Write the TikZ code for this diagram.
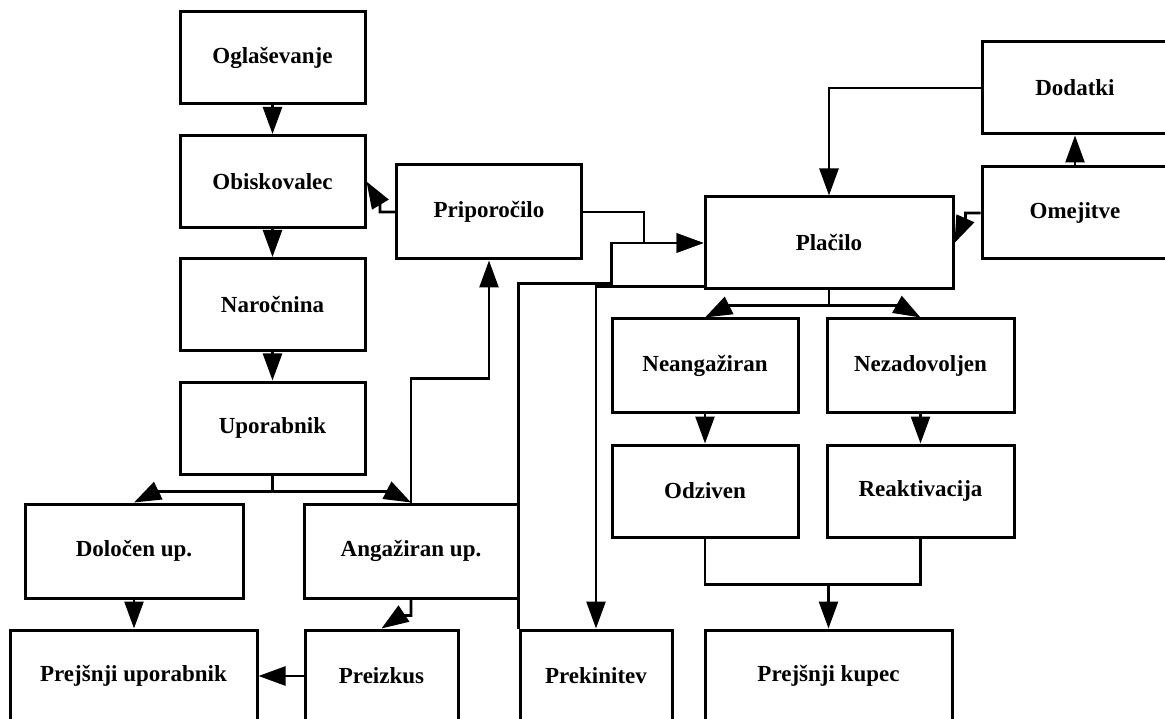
\documentclass[tikz,border=0pt]{standalone}
\usepackage{fontspec}
\setmainfont{Liberation Serif}
\usetikzlibrary{arrows.meta,positioning}
\tikzset{font=\fontsize{23}{27}\selectfont\bfseries}
\tikzset{box/.style={draw, line width=3pt, inner sep=0pt, minimum width=185pt, minimum height=92pt}}
\tikzset{conn/.style={line width=2.6pt, -{Triangle[length=27pt,width=19pt]}}}
\tikzset{link/.style={line width=2.6pt}}

\begin{document}
\begin{tikzpicture}[x=1pt, y=-1pt]
  \clip (0,0) rectangle (1165,719);
  \fill[white] (0,0) rectangle (1165,719);

  \node[box] (ogl) at (272.5,57.5) {Oglaševanje};
  \node[box] (obi) at (272.5,181.5) {Obiskovalec};
  \node[box] (nar) at (272.5,304.5) {Naročnina};
  \node[box] (upo) at (272.5,428) {Uporabnik};
  \node[box, minimum height=94pt] (pri) at (489,212) {Priporočilo};
  \node[box, minimum width=248pt] (pla) at (829,243) {Plačilo};
  \node[box, minimum width=186pt] (dod) at (1075,88) {Dodatki};
  \node[box, minimum width=186pt] (ome) at (1075,213) {Omejitve};
  \node[box, minimum width=186pt, minimum height=93pt] (neang) at (705,365.5) {Neangažiran};
  \node[box, minimum width=187pt, minimum height=93pt] (nezad) at (920.5,365.5) {Nezadovoljen};
  \node[box, minimum width=186pt] (odz) at (705,491) {Odziven};
  \node[box, minimum width=187pt] (reak) at (920.5,491) {Reaktivacija};
  \node[box, minimum width=218pt, minimum height=94pt] (dol) at (134,551) {Določen up.};
  \node[box, minimum width=214pt, minimum height=94pt] (ang) at (411,551) {Angažiran up.};
  \node[box, minimum width=247pt] (pupo) at (133.5,676) {Prejšnji uporabnik};
  \node[box, minimum width=153pt] (prei) at (381.5,676) {Preizkus};
  \node[box, minimum width=152pt] (prek) at (596,676) {Prekinitev};
  \node[box, minimum width=247pt] (pkup) at (828.5,676) {Prejšnji kupec};

  \draw[conn] (ogl.south) -- (obi.north);
  \draw[conn] (obi.south) -- (nar.north);
  \draw[conn] (nar.south) -- (upo.north);
  \draw[conn] (pri.west) -- ++(-15,0) -- ++(0,-8) -- (obi.east);
  \draw[conn] (pri.east) -- ++(61,0) |- (pla.west);
  \draw[conn] (prek.north west) |- ++(93,-345) |- (pla.west);
  \draw[conn] ([yshift=4pt]pla.south west) -| (prek.north);
  \draw[conn] (dod.west) -| (pla.north);
  \draw[conn] (ome.north) -- (dod.south);
  \draw[conn] (ome.west) -- ++(-15,0) -- ++(0,5) -- (pla.east);

  \draw[link] (pla.south) -- ++(0,15) coordinate (plasplit);
  \draw[conn] (plasplit) -- ++(-100,0) -- (neang.north);
  \draw[conn] (plasplit) -- ++(70,0) -- (nezad.north);
  \draw[conn] (neang.south) -- (odz.north);
  \draw[conn] (nezad.south) -- (reak.north);
  \draw[link] (odz.south) -- ++(0,46) coordinate (odzjoin) -| (reak.south);
  \draw[conn] (odzjoin -| pkup.north) -- (pkup.north);

  \draw[link] (upo.south) -- ++(0,16) coordinate (uposplit);
  \draw[conn] (uposplit) -- ++(-116,0) -- (dol.north);
  \draw[conn] (uposplit) -- ++(117,0) -- (ang.north);
  \draw[conn] (ang.north) -- ++(0,-124) -| (pri.south);
  \draw[conn] (ang.south) -- ++(0,16) -- ++(-10,0) -- (prei.north);
  \draw[conn] (dol.south) -- (dol.south |- pupo.north);
  \draw[conn] (prei.west) -- (pupo.east);
\end{tikzpicture}
\end{document}
